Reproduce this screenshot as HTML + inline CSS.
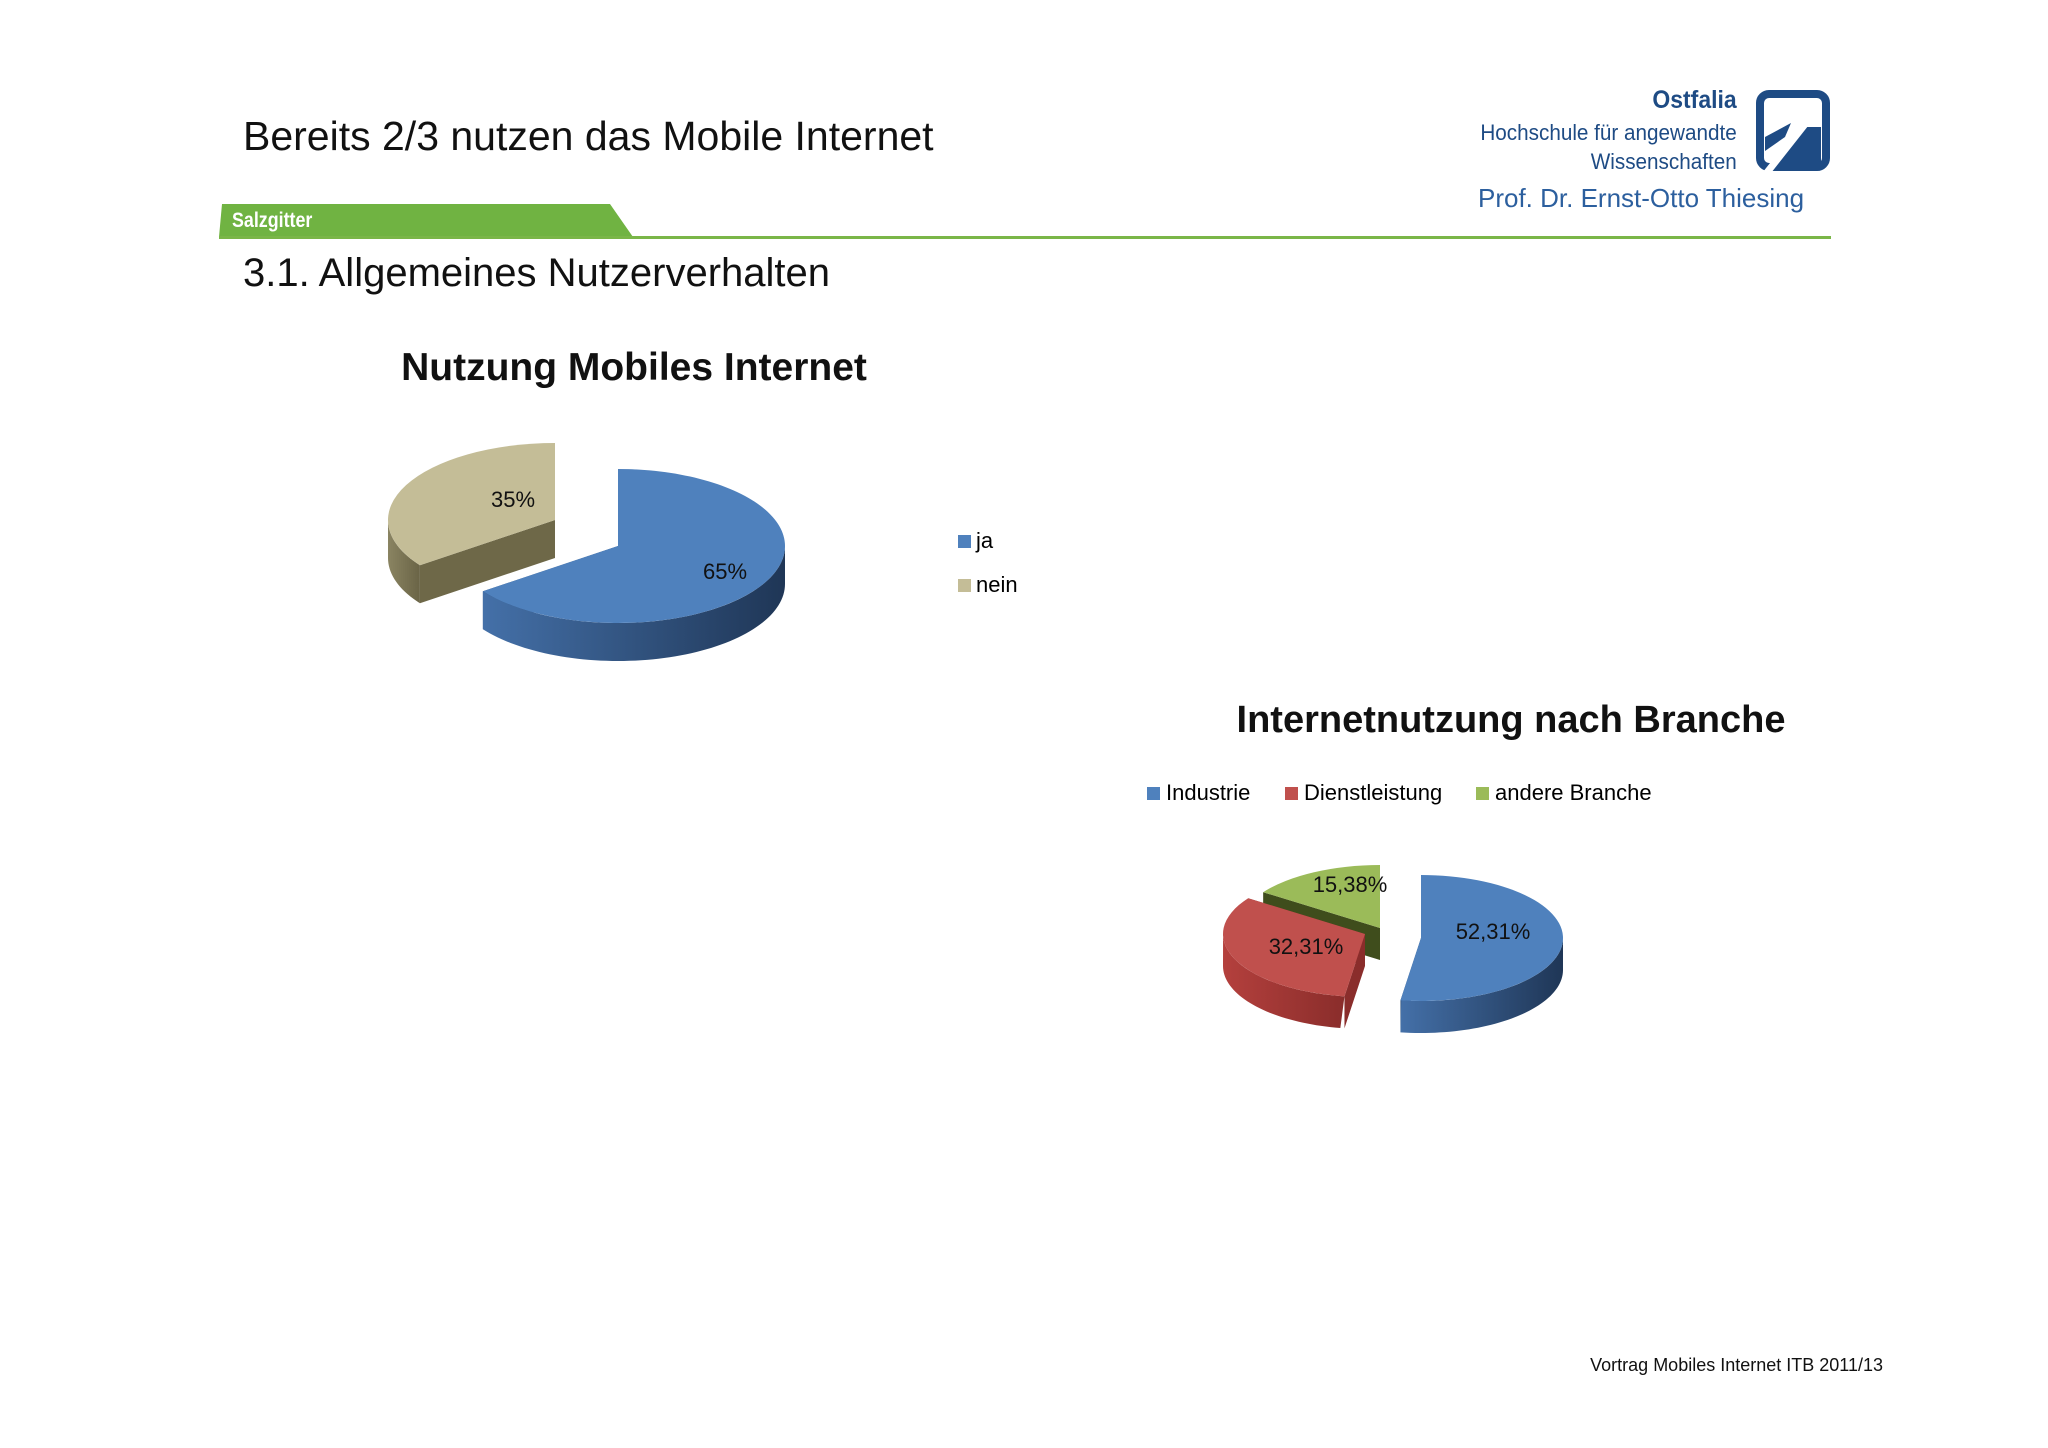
<!DOCTYPE html>
<html><head><meta charset="utf-8"><style>
body{margin:0;width:2048px;height:1448px;background:#fff;position:relative;overflow:hidden;font-family:"Liberation Sans",sans-serif}
.t{position:absolute;white-space:nowrap}
</style></head><body>
<div class="t" style="left:243px;top:113px;font-size:41px;color:#111">Bereits 2/3 nutzen das Mobile Internet</div>
<div class="t" style="right:311px;top:86px;font-size:25px;font-weight:bold;color:#1e4b84;transform:scaleX(0.92);transform-origin:right">Ostfalia</div>
<div class="t" style="right:311px;top:118px;font-size:22px;line-height:29px;text-align:right;color:#1e4b84;transform:scaleX(0.94);transform-origin:right">Hochschule für angewandte<br>Wissenschaften</div>
<svg style="position:absolute;left:1755px;top:89px" width="76" height="83" viewBox="0 0 76 83">
<rect x="5" y="5" width="66" height="73" rx="9" fill="none" stroke="#1e4b84" stroke-width="8"/>
<polygon points="10,48 36,34 30,48 10,62" fill="#1e4b84"/>
<polygon points="46,38 66,38 66,74 22,74" fill="#1e4b84"/>
<line x1="10" y1="86" x2="62" y2="20" stroke="#fff" stroke-width="7"/>
</svg>
<div class="t" style="left:1478px;top:183px;font-size:26px;color:#2c5f9e">Prof. Dr. Ernst-Otto Thiesing</div>
<svg style="position:absolute;left:0;top:0" width="2048" height="250">
<polygon points="222,204 610,204 633,237 219,237" fill="#70b342"/>
<rect x="219" y="236" width="1612" height="3" fill="#7ab648"/>
</svg>
<div class="t" style="left:232px;top:209px;font-size:21px;font-weight:bold;color:#fff;transform:scaleX(0.85);transform-origin:left">Salzgitter</div>
<div class="t" style="left:243px;top:251px;font-size:40px;color:#111">3.1. Allgemeines Nutzerverhalten</div>
<div class="t" style="left:634px;top:346px;transform:translateX(-50%);font-size:39px;font-weight:bold;color:#111">Nutzung Mobiles Internet</div>
<div class="t" style="left:1511px;top:699px;transform:translateX(-50%);font-size:38px;font-weight:bold;color:#111">Internetnutzung nach Branche</div>
<div class="t" style="left:958px;top:528px;font-size:22px"><span style="display:inline-block;width:13px;height:13px;background:#4f81bd;margin-right:5px"></span>ja</div>
<div class="t" style="left:958px;top:572px;font-size:22px"><span style="display:inline-block;width:13px;height:13px;background:#c4bd97;margin-right:5px"></span>nein</div>
<div class="t" style="left:1147px;top:780px;font-size:22px"><span style="display:inline-block;width:13px;height:13px;background:#4f81bd;margin-right:6px"></span>Industrie</div>
<div class="t" style="left:1285px;top:780px;font-size:22px"><span style="display:inline-block;width:13px;height:13px;background:#c0504d;margin-right:6px"></span>Dienstleistung</div>
<div class="t" style="left:1476px;top:780px;font-size:22px"><span style="display:inline-block;width:13px;height:13px;background:#9bbb59;margin-right:6px"></span>andere Branche</div>
<svg id="pies" style="position:absolute;left:0;top:0" width="2048" height="1448"></svg>
<div class="t" style="right:165px;top:1355px;font-size:18px;color:#111">Vortrag Mobiles Internet ITB 2011/13</div>
<script>
const pie1Labels = ["ja","nein"];
const pie1Values = [65,35];
const pie1Text = ["65%","35%"];
const pie2Labels = ["Industrie","Dienstleistung","andere Branche"];
const pie2Values = [52.31,32.31,15.38];
const pie2Text = ["52,31%","32,31%","15,38%"];

const svg=document.getElementById('pies');
const NS='http://www.w3.org/2000/svg';
function mk(tag,attrs,name){const e=document.createElementNS(NS,tag);for(const k in attrs)e.setAttribute(k,attrs[k]);


svg.appendChild(e);return e;}
const rad=d=>d*Math.PI/180;
function drawPie(cfg,values,texts,labels){
  const total=values.reduce((a,b)=>a+b,0);
  let a=-90; const slices=[];
  values.forEach((v,i)=>{const s=a,e=a+v/total*360;a=e;slices.push({s,e,i});});
  cfg.order.forEach(i=>{
    const sl=slices[i];const [ox,oy]=cfg.off[i];
    const cx=cfg.cx+ox, cy=cfg.cy+oy, rx=cfg.rx, ry=cfg.ry, d=cfg.d;
    const P=t=>[cx+rx*Math.cos(rad(t)),cy+ry*Math.sin(rad(t))];
    const col=cfg.colors[i];
    [sl.s,sl.e].forEach(t=>{const p=P(t);
      mk('polygon',{points:`${cx},${cy} ${cx},${cy+d} ${p[0]},${p[1]+d} ${p[0]},${p[1]}`,fill:col.face},'slice-face-'+labels[i]);});
    let lo=Math.max(sl.s,0),hi=Math.min(sl.e,180);
    if(hi>lo){let pts=[];for(let t=lo;t<=hi+0.01;t+=2){const p=P(Math.min(t,hi));pts.push(p[0]+','+p[1]);}
      for(let t=hi;t>=lo-0.01;t-=2){const p=P(Math.max(t,lo));pts.push(p[0]+','+(p[1]+d));}
      mk('polygon',{points:pts.join(' '),fill:`url(#${col.grad})`},'slice-side-'+labels[i]);}
    const p1=P(sl.s),p2=P(sl.e);const large=(sl.e-sl.s)>180?1:0;
    mk('path',{d:`M${cx},${cy} L${p1[0]},${p1[1]} A${rx},${ry} 0 ${large} 1 ${p2[0]},${p2[1]} Z`,fill:col.top},'slice-'+labels[i]);
  });
  texts.forEach((t,i)=>{const tx=mk('text',{x:cfg.lab[i][0],y:cfg.lab[i][1],'font-size':22,'text-anchor':'middle','font-family':'Liberation Sans, sans-serif',fill:'#111'},'data-label-'+labels[i]);tx.textContent=t;});
}
const defs=mk('defs',{},'gradients');
defs.innerHTML=`
<linearGradient id="gb" x1="0" x2="1"><stop offset="0" stop-color="#4470a8"/><stop offset="1" stop-color="#1f3656"/></linearGradient>
<linearGradient id="gt" x1="0" x2="1"><stop offset="0" stop-color="#8a8462"/><stop offset="1" stop-color="#6a6446"/></linearGradient>
<linearGradient id="gr" x1="0" x2="1"><stop offset="0" stop-color="#b4403d"/><stop offset="1" stop-color="#8a2d2b"/></linearGradient>
<linearGradient id="gg" x1="0" x2="1"><stop offset="0" stop-color="#5a6e2c"/><stop offset="1" stop-color="#44531f"/></linearGradient>`;
drawPie({cx:618,cy:546,rx:167,ry:77,d:38,order:[1,0],off:[[0,0],[-63,-26]],
  colors:[{top:'#4f81bd',face:'#2d4c74',grad:'gb'},{top:'#c4bd97',face:'#6e6848',grad:'gt'}],
  lab:[[725,579],[513,507]]},pie1Values,pie1Text,pie1Labels);
drawPie({cx:1421,cy:938,rx:142,ry:63,d:32,order:[2,1,0],off:[[0,0],[-56,-4],[-41,-10]],
  colors:[{top:'#4f81bd',face:'#2d4c74',grad:'gb'},{top:'#c0504d',face:'#8a2d2b',grad:'gr'},{top:'#9bbb59',face:'#3f4d1c',grad:'gg'}],
  lab:[[1493,939],[1306,954],[1350,892]]},pie2Values,pie2Text,pie2Labels);
</script>
</body></html>
